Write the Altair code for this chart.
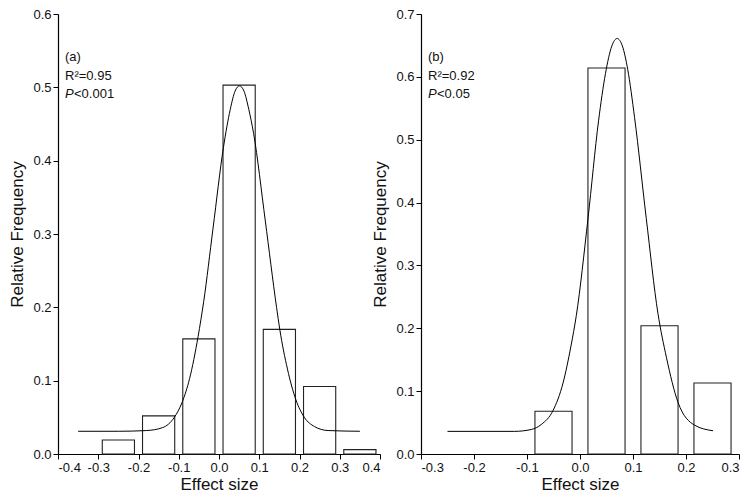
import altair as alt
import pandas as pd

FONT = "Liberation Sans"

# ---------------- panel (a) ----------------
a_bin_lo = [-0.29, -0.19, -0.09, 0.01, 0.11, 0.21, 0.31]
a_bin_hi = [-0.21, -0.11, -0.01, 0.09, 0.19, 0.29, 0.39]
a_freq = [0.019, 0.052, 0.157, 0.503, 0.170, 0.092, 0.006]
a_fit_x = [-0.35, -0.25, -0.18, -0.14, -0.111, -0.092, -0.073, -0.052, -0.038,
           -0.015, 0.011, 0.028, 0.040, 0.051, 0.062, 0.074, 0.086, 0.115,
           0.143, 0.151, 0.170, 0.191, 0.212, 0.237, 0.271, 0.35]
a_fit_y = [0.031, 0.031, 0.032, 0.036, 0.050, 0.070, 0.103, 0.160, 0.208,
           0.307, 0.418, 0.470, 0.495, 0.502, 0.495, 0.470, 0.437, 0.318,
           0.200, 0.170, 0.116, 0.074, 0.050, 0.0375, 0.032, 0.031]
a_text = ["(a)", "R\u00b2=0.95", "<0.001"]

# ---------------- panel (b) ----------------
b_bin_lo = [-0.085, 0.015, 0.115, 0.215]
b_bin_hi = [-0.015, 0.085, 0.185, 0.285]
b_freq = [0.068, 0.614, 0.204, 0.113]
b_fit_x = [-0.25, -0.124, -0.092, -0.073, -0.051, -0.032, -0.017, -0.007,
           0.015, 0.035, 0.048, 0.060, 0.070, 0.080, 0.090, 0.103, 0.125,
           0.147, 0.163, 0.185, 0.216, 0.251]
b_fit_y = [0.036, 0.036, 0.039, 0.047, 0.069, 0.113, 0.172, 0.220,
           0.374, 0.530, 0.605, 0.649, 0.661, 0.649, 0.612, 0.535, 0.375,
           0.224, 0.154, 0.082, 0.046, 0.037]
b_text = ["(b)", "R\u00b2=0.92", "<0.05"]

LABEL_EXPR = ("abs(datum.value*10 - round(datum.value*10)) < 0.001 ? "
              "replace(format(datum.value, '.1f'), '\u2212', '-') : ''")


def tick_values(lo, hi):
    return [i / 20 for i in range(round(lo * 20), round(hi * 20) + 1)]


def panel(lo, hi, freq, fx, fy, xmin, xmax, ymax, width, height, texts):
    bars_df = pd.DataFrame({"lo": lo, "hi": hi, "f": freq})
    fit_df = pd.DataFrame({"x": fx, "y": fy})
    dummy = pd.DataFrame({"d": [0]})
    xs = alt.Scale(domain=[xmin, xmax], nice=False, zero=False)
    ys = alt.Scale(domain=[0, ymax], nice=False)
    xaxis = alt.Axis(values=tick_values(xmin, xmax), labelExpr=LABEL_EXPR,
                     title="Effect size", grid=False, titlePadding=2)
    yaxis = alt.Axis(values=tick_values(0, ymax), labelExpr=LABEL_EXPR,
                     title="Relative Frequency", grid=False, titlePadding=6)
    bars = alt.Chart(bars_df).mark_rect(
        fill="white", stroke="#222", strokeWidth=1.1
    ).encode(
        x=alt.X("lo:Q", scale=xs, axis=xaxis),
        x2="hi:Q",
        y=alt.Y("f:Q", scale=ys, axis=yaxis),
        y2=alt.datum(0),
    )
    fit = alt.Chart(fit_df).mark_line(
        color="black", strokeWidth=1, interpolate="monotone"
    ).encode(
        x=alt.X("x:Q", scale=xs),
        y=alt.Y("y:Q", scale=ys),
    )
    style = dict(align="left", baseline="middle", fontSize=13, font=FONT, color="#111")
    t1 = alt.Chart(dummy).mark_text(**style).encode(
        x=alt.value(7), y=alt.value(43), text=alt.value(texts[0]))
    t2 = alt.Chart(dummy).mark_text(**style).encode(
        x=alt.value(7), y=alt.value(62), text=alt.value(texts[1]))
    t3 = alt.Chart(dummy).mark_text(fontStyle="italic", **style).encode(
        x=alt.value(7), y=alt.value(80), text=alt.value("P"))
    t4 = alt.Chart(dummy).mark_text(**style).encode(
        x=alt.value(16), y=alt.value(80), text=alt.value(texts[2]))
    return alt.layer(bars, fit, t1, t2, t3, t4).properties(width=width, height=height)


left = panel(a_bin_lo, a_bin_hi, a_freq, a_fit_x, a_fit_y, -0.4, 0.4, 0.6, 322, 440, a_text)
right = panel(b_bin_lo, b_bin_hi, b_freq, b_fit_x, b_fit_y, -0.3, 0.3, 0.7, 318, 440, b_text)

chart = alt.hconcat(left, right, spacing=41, bounds="flush").properties(
    padding={"left": 0, "top": 0, "right": 0, "bottom": 0}
).configure_view(stroke=None).configure_axis(
    domainColor="black", tickColor="black", labelColor="#111",
    labelFont=FONT, titleFont=FONT, labelFontSize=13, titleFontSize=17,
    titleFontWeight="normal", titleColor="#111", tickSize=5, labelPadding=2,
    domainWidth=1.2, tickWidth=1
)

chart.save("out.html", embed_options={"renderer": "svg", "actions": False})
